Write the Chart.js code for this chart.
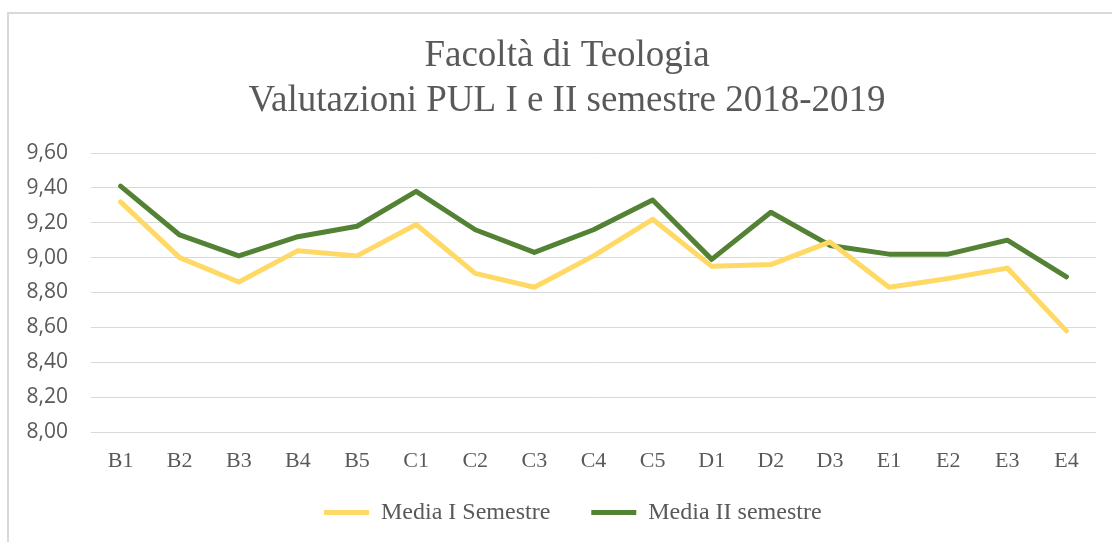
<!DOCTYPE html>
<html>
<head>
<meta charset="utf-8">
<script src="https://cdn.jsdelivr.net/npm/chart.js@4/dist/chart.umd.min.js"></script>
<style>
  html, body { margin: 0; padding: 0; background: #ffffff; overflow: hidden; }
  #wrap { position: absolute; left: 0; top: 0; width: 1112px; height: 542px; }
  #frame { position: absolute; left: 7px; top: 12px; width: 1200px; height: 600px; border: 2px solid #d9d9d9; box-sizing: border-box; }
  canvas { position: absolute; left: 0; top: 0; }
</style>
</head>
<body>
<div id="wrap">
  <div id="frame"></div>
  <canvas id="c" width="1112" height="542"></canvas>
</div>
<script>
const titleLines = ['Facoltà di Teologia', 'Valutazioni PUL I e II semestre 2018-2019'];
const categories = ['B1','B2','B3','B4','B5','C1','C2','C3','C4','C5','D1','D2','D3','E1','E2','E3','E4'];
const seriesNames = ['Media I Semestre', 'Media II semestre'];
const semestre1 = [9.32, 9.00, 8.86, 9.04, 9.01, 9.19, 8.91, 8.83, 9.01, 9.22, 8.95, 8.96, 9.09, 8.83, 8.88, 8.94, 8.58];
const semestre2 = [9.41, 9.13, 9.01, 9.12, 9.18, 9.38, 9.16, 9.03, 9.16, 9.33, 8.99, 9.26, 9.07, 9.02, 9.02, 9.10, 8.89];
const yMin = 8.00, yMax = 9.60, yStep = 0.20;

const TEXT = '#595959';
const SERIF = '"Liberation Serif", "Times New Roman", serif';

// Fine placement of the title and legend blocks (centre of the outer chart frame)
const placeBlocks = {
  id: 'placeBlocks',
  afterLayout(chart) {
    const t = chart.titleBlock;
    if (t) { t.left += 19; t.right += 19; }
    const l = chart.legend;
    if (l) {
      const h = l.bottom - l.top;
      l.left = 283; l.top = 459.5; l.bottom = l.top + h;
    }
  }
};

new Chart(document.getElementById('c'), {
  type: 'line',
  data: {
    labels: categories,
    datasets: [
      { label: seriesNames[0], data: semestre1, borderColor: '#FFD966', backgroundColor: '#FFD966',
        borderWidth: 5, pointRadius: 0, tension: 0, borderCapStyle: 'round', borderJoinStyle: 'round' },
      { label: seriesNames[1], data: semestre2, borderColor: '#548235', backgroundColor: '#548235',
        borderWidth: 5, pointRadius: 0, tension: 0, borderCapStyle: 'round', borderJoinStyle: 'round' }
    ]
  },
  options: {
    responsive: false,
    animation: false,
    layout: { padding: { left: 0, right: 16, top: 0, bottom: 6 } },
    plugins: {
      title: {
        display: true, text: titleLines, color: TEXT,
        font: { family: SERIF, size: 37, weight: 'normal', lineHeight: '45px' },
        padding: { top: 34, bottom: 29 }
      },
      legend: {
        display: true, position: 'bottom', align: 'start', maxHeight: 60,
        labels: {
          color: TEXT, font: { family: SERIF, size: 24 },
          usePointStyle: true, pointStyle: 'line', pointStyleWidth: 45, boxHeight: 24,
          padding: 41
        }
      },
      tooltip: { enabled: false }
    },
    scales: {
      x: {
        offset: true,
        grid: { display: false },
        border: { display: false },
        ticks: { color: TEXT, font: { family: SERIF, size: 22 }, padding: 8, maxRotation: 0, autoSkip: false },
        afterFit(s) { s.height = 44; }
      },
      y: {
        min: yMin, max: yMax,
        grid: { color: '#d9d9d9', lineWidth: 1, drawTicks: false },
        border: { display: false },
        ticks: {
          stepSize: yStep, color: TEXT, padding: 23,
          font: { family: '"Open Sans", sans-serif', size: 21 },
          callback: (v) => Number(v).toFixed(2).replace('.', ',')
        },
        afterFit(s) { s.width = 91; }
      }
    }
  },
  plugins: [placeBlocks]
});
</script>
</body>
</html>
